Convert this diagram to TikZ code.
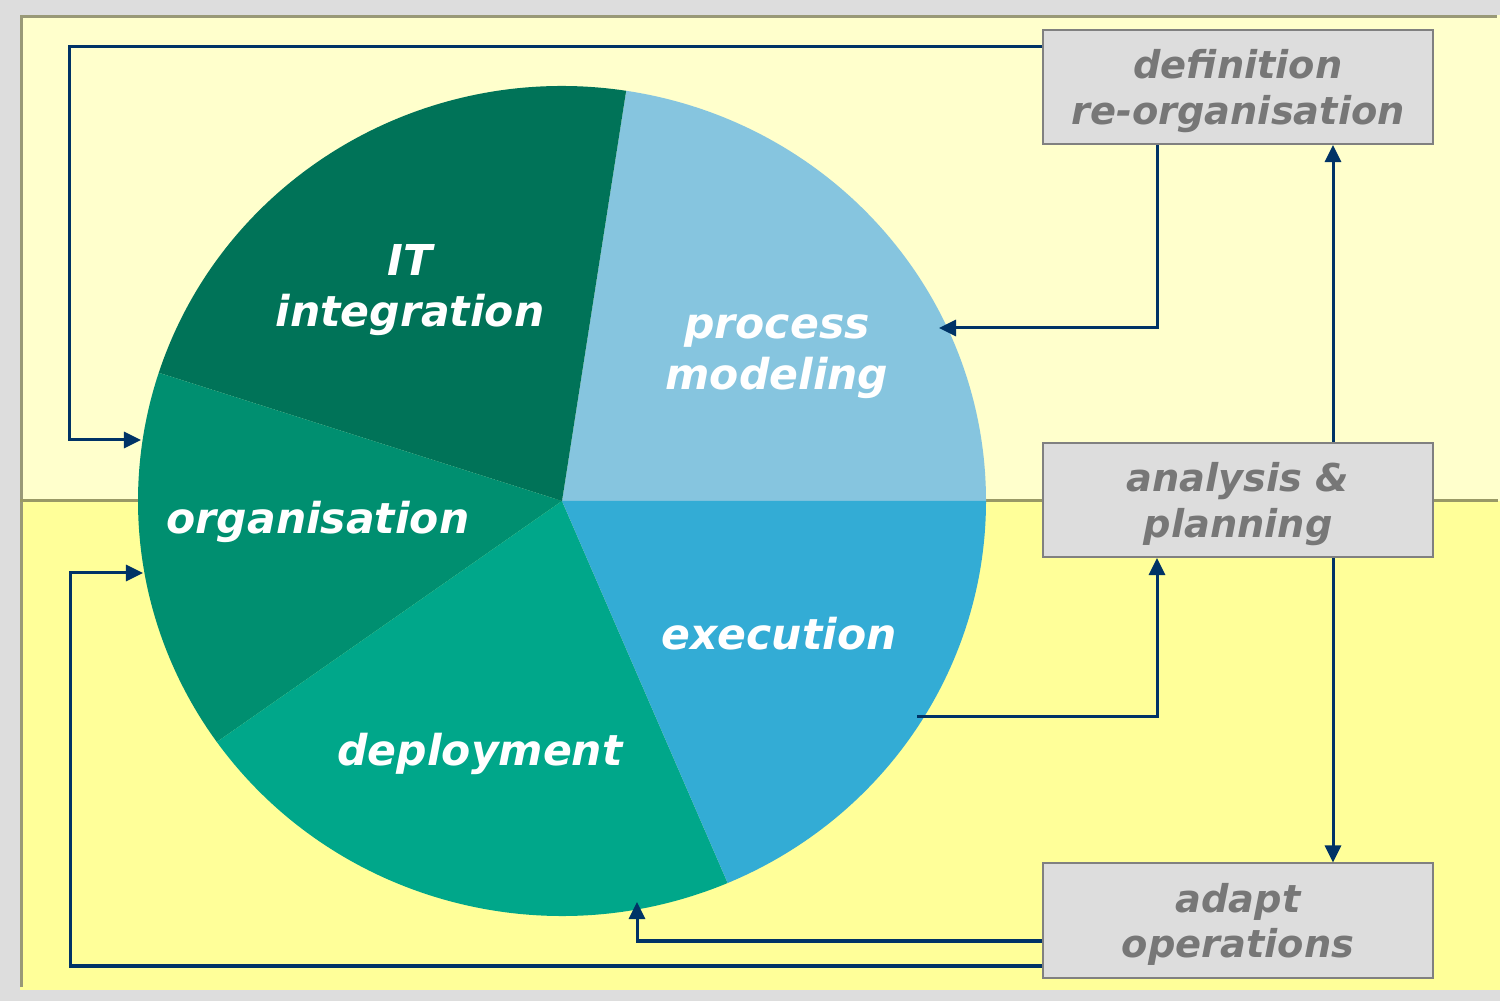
\documentclass[tikz,border=0pt]{standalone}
\usepackage{fontspec}
\setmainfont{DejaVu Sans}
\usetikzlibrary{arrows.meta}
\definecolor{bggrey}{HTML}{DDDDDD}
\definecolor{upperbg}{HTML}{FFFFCC}
\definecolor{lowerbg}{HTML}{FFFF99}
\definecolor{rim}{HTML}{999977}
\definecolor{divline}{HTML}{999966}
\definecolor{itcol}{HTML}{007358}
\definecolor{pmcol}{HTML}{86C5DF}
\definecolor{execol}{HTML}{33ACD5}
\definecolor{depcol}{HTML}{00A78A}
\definecolor{orgcol}{HTML}{008F70}
\definecolor{boxfill}{HTML}{DDDDDD}
\definecolor{boxline}{HTML}{808080}
\definecolor{boxtext}{HTML}{777777}
\definecolor{linkcol}{HTML}{003366}

\begin{document}
\begin{tikzpicture}[x=0.01cm,y=-0.01cm,
  box/.style={draw=boxline,line width=0.02cm,fill=boxfill,minimum width=3.9cm,minimum height=1.14cm,
    inner sep=0pt,align=center,text=boxtext,font=\fontsize{10.9}{13}\selectfont\bfseries\itshape},
  lbl/.style={text=white,align=center,font=\fontsize{12.1}{14.4}\selectfont\bfseries\itshape},
  link/.style={draw=linkcol,line width=0.03cm,-{Triangle[length=0.17cm,width=0.16cm]}}]
\useasboundingbox (0,0) rectangle (1500,1001);
% panel
\fill[bggrey] (0,0) rectangle (1500,1001);
\fill[upperbg] (20,15) rectangle (1500,501);
\fill[lowerbg] (20,501) rectangle (1500,990);
\draw[rim,line width=0.03cm] (21.5,987) -- (21.5,16.5) -- (1497,16.5);
\draw[divline,line width=0.03cm] (20,501) -- (1498,501);
% pie
\coordinate (pc) at (562,501);
\foreach \s/\e/\c in {0/81.3/pmcol,81.3/162/itcol,162/215.5/orgcol,215.5/293/depcol,293/360/execol}
  \fill[\c] (pc) -- ++(-\s:424 and 415) arc[start angle=-\s,end angle=-\e,x radius=424,y radius=415] -- cycle;
\node[lbl] (it) at (410,290) {IT\\integration};
\node[lbl] (pm) at (777,357) {process\\modeling};
\node[lbl] (org) at (318,522) {organisation};
\node[lbl] (exe) at (779,634) {execution};
\node[lbl] (dep) at (480,754) {deployment};
% boxes
\node[box,text depth=-2pt] (defn) at (1238,87) {definition\\re-organisation};
\node[box,text depth=-2pt] (anal) at (1238,500) {analysis \&\\planning};
\node[box,text depth=-2pt] (adapt) at (1238,920.5) {adapt\\operations};
% corners and ends
\coordinate (tl) at (69,47);
\coordinate (orgin) at (141,440);
\coordinate (bl) at (70,966);
\coordinate (orgin2) at (143,573);
\coordinate (pmin) at (939,328);
\coordinate (exout) at (917,717);
\coordinate (depin) at (637,902);
\coordinate (r1) at (637,941);
\coordinate (colL) at (1157,501);
\coordinate (colR) at (1333,501);
% links
\draw[link] (defn.west |- tl) -- (tl) |- (orgin);
\draw[link] (defn.south -| colL) |- (pmin);
\draw[link] (anal.north -| colR) -- (defn.south -| colR);
\draw[link] (anal.south -| colR) -- (adapt.north -| colR);
\draw[link] (exout) -| (anal.south -| colL);
\draw[link] (adapt.west |- r1) -| (depin);
\draw[link] (adapt.west |- bl) -- (bl) |- (orgin2);
\end{tikzpicture}
\end{document}
